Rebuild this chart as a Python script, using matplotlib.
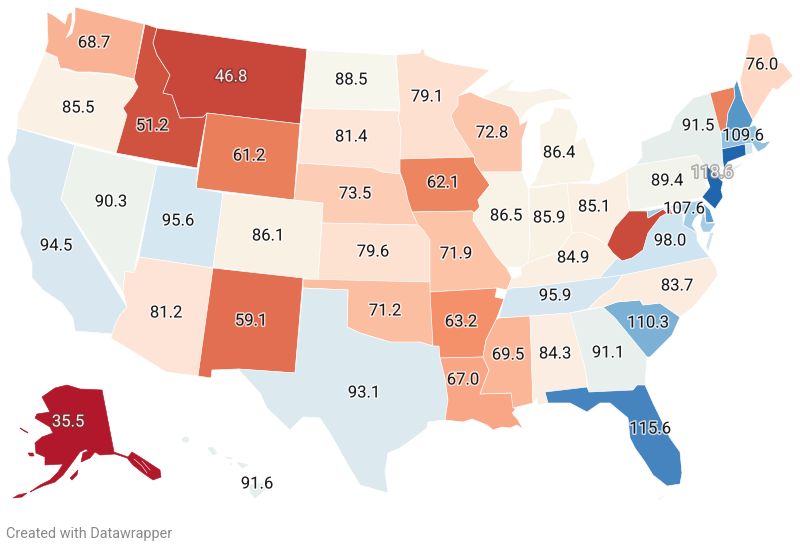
import matplotlib
matplotlib.use("Agg")
import matplotlib.pyplot as plt
import matplotlib.patheffects as pe
from matplotlib.colors import LinearSegmentedColormap, Normalize
from matplotlib.patches import Polygon

plt.rcParams['font.family'] = ['Roboto', 'DejaVu Sans']

# Index values per state (hidden-label states estimated from their colour)
states = ["WA","OR","CA","NV","ID","MT","WY","UT","AZ","CO","NM","ND","SD","NE","KS","OK","TX",
          "MN","IA","MO","AR","LA","WI","IL","IN","MI","OH","KY","TN","MS","AL","GA","FL","SC","NC",
          "VA","WV","PA","NY","VT","NH","ME","MA","RI","CT","NJ","DE","MD","DC","AK","HI"]
values = [68.7,85.5,94.5,90.3,51.2,46.8,61.2,95.6,81.2,86.1,59.1,88.5,81.4,73.5,79.6,71.2,93.1,
          79.1,62.1,71.9,63.2,67.0,72.8,86.5,85.9,86.4,85.1,84.9,95.9,69.5,84.3,91.1,115.6,110.3,83.7,
          98.0,48.0,89.4,91.5,61.5,113.0,76.0,109.6,97.0,118.6,118.6,112.5,107.6,55.0,35.5,91.6]
hidden_labels = ["VT","NH","RI","CT","DE","DC","WV"]
no_border = ["AK","HI"]

# Colour scale
scale_stops = [35.5,46.8,51.2,59.1,61.2,63.2,67.0,68.7,71.2,72.8,76.0,79.1,81.4,85.0,86.5,88.5,
               90.3,91.5,93.1,95.6,98.0,107.6,109.6,110.3,113.0,115.6,118.6]
scale_colors = ["#b2182b","#c8473a","#d05340","#e37052","#e97f5b","#f4906a","#f8a585","#f9b293",
                "#fcbfa1","#fcc7ae","#fed9c5","#fde0d0","#fde5d8","#fbefe3","#f9f2e6","#f7f6ec",
                "#eef2ec","#e6eeec","#dce9ef","#d6e7f1","#cfe4f1","#a6cde4","#9bc5e0","#7cb3d6",
                "#5598c8","#4685bf","#2166ac"]

# State outlines, traced by hand in picture pixels (no geodata is available offline)
outlines = {
"WA":[[(75,7),(144,24),(134,79),(113,74),(90,72),(77,72),(68,69),(60,68),(57,57),(45,52),(48,42),(47,12),(53,15),(60,20),(65,24),(68,14),(72,12),(72,22),(70,30),(66,38),(72,33),(75,20)]],
"OR":[[(45,53),(57,58),(60,69),(77,73),(90,73),(113,75),(134,80),(138,87),(132,97),(123,108),(127,115),(116,153),(17,128),(18,112),(21,108),(32,83)]],
"CA":[[(17,128),(75,145),(61,199),(127,307),(120,315),(115,325),(113,334),(75,331),(73,318),(62,303),(43,290),(32,278),(32,263),(20,233),(22,223),(20,210),(10,190),(10,173),(7,158),(15,143)]],
"NV":[[(75,145),(157,165),(137,257),(134,273),(125,271),(123,292),(61,199)]],
"ID":[[(145,24),(157,28),(153,43),(157,55),(170,75),(163,93),(172,95),(180,118),(203,117),(207,113),(197,168),(116,153),(127,115),(123,108),(132,97),(138,87),(134,79)]],
"MT":[[(157,28),(307,49),(300,124),(207,113),(203,117),(180,118),(172,95),(163,93),(170,75),(157,55),(153,43)]],
"WY":[[(207,113),(300,124),(294,200),(196,188)]],
"UT":[[(157,165),(198,169),(196,188),(223,193),(213,268),(139,257)]],
"AZ":[[(139,257),(213,268),(198,376),(166,372),(111,338),(115,325),(120,315),(127,307),(123,292),(125,271),(134,273)]],
"CO":[[(223,193),(323,203),(318,280),(213,267)]],
"NM":[[(213,268),(303,278),(295,373),(238,369),(212,370),(211,378),(198,376)]],
"ND":[[(307,50),(395,55),(400,110),(303,108)]],
"SD":[[(303,108),(400,111),(398,117),(401,130),(400,174),(382,172),(373,168),(298,163)]],
"NE":[[(298,163),(373,168),(382,172),(400,174),(405,186),(408,200),(412,212),(418,225),(322,223),(323,203),(294,200)]],
"KS":[[(322,223),(418,225),(423,230),(430,240),(430,282),(318,280)]],
"OK":[[(303,279),(430,282),(433,346),(420,342),(400,343),(390,342),(360,333),(347,327),(348,290),(303,288)]],
"TX":[[(303,288),(348,290),(347,327),(360,333),(390,342),(420,342),(433,346),(439,346),(440,358),(445,378),(448,400),(445,420),(428,422),(427,428),(418,435),(400,448),(388,453),(385,472),(388,493),(360,485),(348,465),(333,438),(320,418),(303,417),(290,430),(267,408),(260,393),(238,369),(295,373)]],
"MN":[[(396,55),(420,53),(423,47),(425,55),(443,62),(460,65),(490,70),(460,95),(458,105),(451,115),(455,127),(474,157),(400,159),(401,130),(398,117),(400,110)]],
"IA":[[(400,159),(474,157),(475,163),(481,172),(490,185),(478,200),(480,207),(474,213),(472,211),(412,212),(408,200),(405,186),(400,172)]],
"MO":[[(412,212),(472,211),(474,213),(473,220),(497,257),(506,267),(512,278),(507,290),(497,288),(430,292),(430,240),(423,230),(418,225)]],
"AR":[[(430,292),(497,288),(495,297),(504,299),(496,320),(486,340),(483,357),(440,358),(439,346),(433,346)]],
"LA":[[(440,358),(483,357),(489,370),(480,394),(511,393),(515,410),(512,413),(518,420),(523,429),(517,425),(510,428),(502,427),(493,430),(487,425),(482,423),(472,419),(463,422),(445,420),(448,400),(445,378)]],
"WI":[[(458,96),(470,92),(483,98),(512,107),(519,117),(520,125),(528,120),(522,140),(522,172),(481,172),(475,163),(474,157),(455,127),(451,115),(458,105)]],
"IL":[[(474,213),(480,207),(478,200),(490,185),(481,172),(522,172),(528,188),(530,240),(528,263),(521,267),(506,267),(497,257),(473,220)]],
"IN":[[(529,188),(543,187),(567,183),(572,233),(557,253),(540,258),(528,263),(530,240)]],
"MI":[[(529,187),(567,183),(590,181),(595,165),(585,137),(575,143),(578,125),(570,110),(555,107),(550,120),(540,125),(540,150),(543,160),(535,180)],
      [(483,97),(507,83),(515,78),(507,90),(530,92),(550,88),(565,93),(573,99),(557,100),(540,103),(528,110),(520,120),(519,117),(512,107)]],
"OH":[[(567,183),(597,184),(608,180),(627,170),(628,197),(630,210),(615,227),(607,245),(597,238),(582,232),(572,233)]],
"KY":[[(507,290),(512,278),(515,278),(521,275),(521,267),(528,263),(540,258),(557,253),(572,233),(582,232),(597,238),(607,245),(617,258),(602,275),(600,278),(530,287),(512,288)]],
"TN":[[(499,318),(504,299),(507,290),(512,288),(530,287),(600,278),(623,275),(613,288),(600,297),(588,309),(570,313),(530,316)]],
"MS":[[(499,318),(530,316),(533,403),(513,408),(511,393),(480,394),(489,370),(483,357),(486,340),(496,320)]],
"AL":[[(530,316),(570,313),(585,368),(588,392),(545,392),(548,403),(538,405),(537,398),(533,403)]],
"GA":[[(570,313),(603,307),(615,318),(647,357),(645,385),(637,385),(633,390),(589,392),(585,368)]],
"FL":[[(545,392),(587,387),(589,392),(633,390),(637,385),(645,385),(653,403),(670,438),(680,452),(682,473),(680,484),(667,486),(653,475),(645,462),(635,448),(630,438),(628,418),(610,403),(600,403),(587,412),(570,403),(548,403)],
      [(657,500),(665,495),(660,499)]],
"SC":[[(603,307),(617,302),(640,300),(643,305),(660,303),(680,317),(672,335),(650,357),(647,357),(615,318)]],
"NC":[[(623,275),(710,257),(716,268),(718,275),(705,293),(692,308),(680,317),(660,303),(643,305),(640,300),(617,302),(603,307),(588,309),(600,297),(613,288)]],
"VA":[[(600,278),(602,275),(617,258),(622,261),(632,258),(643,250),(648,233),(660,217),(667,213),(683,213),(683,225),(697,233),(697,240),(702,248),(708,255),(710,257),(623,275)],
      [(710,233),(714,232),(708,252),(706,246)]],
"WV":[[(627,195),(630,211),(647,211),(648,218),(663,209),(667,213),(660,217),(648,233),(643,250),(632,258),(622,261),(613,253),(607,245),(615,227),(630,210)]],
"PA":[[(626,170),(635,165),(697,155),(706,168),(706,185),(710,190),(700,198),(630,211),(628,197)]],
"NY":[[(635,165),(642,157),(641,142),(670,130),(675,117),(693,98),(710,93),(720,130),(722,147),(723,163),(725,167),(712,165),(706,168),(697,155)],
      [(726,170),(745,162),(730,174)]],
"VT":[[(710,93),(734,87),(735,97),(728,113),(726,131),(720,131)]],
"NH":[[(734,87),(737,80),(743,100),(753,120),(750,127),(726,131),(728,113),(735,97)]],
"ME":[[(740,80),(747,50),(750,35),(763,33),(770,37),(777,63),(783,63),(793,76),(777,90),(773,88),(763,103),(753,120),(743,100)]],
"MA":[[(721,132),(750,127),(755,125),(760,133),(756,138),(762,143),(771,141),(765,148),(758,152),(752,143),(745,144),(722,149)]],
"RI":[[(745,144),(752,143),(753,153),(746,155)]],
"CT":[[(722,149),(745,144),(746,155),(728,162),(724,168),(723,163)]],
"NJ":[[(707,166),(723,182),(721,190),(723,197),(715,209),(702,197),(710,187),(705,173)]],
"DE":[[(703,203),(710,210),(714,222),(706,223),(705,210)]],
"MD":[[(647,211),(702,200),(703,205),(700,213),(695,218),(692,225),(697,233),(683,225),(686,213),(677,209),(667,207),(663,209),(648,218)],
      [(703,206),(706,223),(716,223),(710,232),(703,232),(700,225),(702,217)]],
"DC":[[(666,207),(670,208),(673,215),(669,214)]],
"AK":[[(42,397),(55,388),(67,385),(80,389),(102,390),(114,452),(128,457),(132,452),(140,457),(160,470),(161,477),(153,480),(143,473),(133,465),(127,458),(115,454),(100,455),(95,452),(90,458),(81,462),(83,453),(88,451),(86,449),(80,452),(72,463),(63,475),(55,482),(43,486),(32,491),(30,492),(40,485),(50,480),(58,472),(63,464),(45,465),(45,457),(36,453),(35,443),(42,437),(53,433),(50,427),(35,418),(37,414),(50,412)],
      [(70,478),(78,470),(77,475),(72,480)],[(28,453),(33,453),(34,456),(30,456)],[(20,428),(27,432),(28,433),(24,431)],[(13,498),(18,495),(27,493),(22,497)]],
"HI":[[(182,439),(185,437),(189,438),(188,442),(183,442)],[(208,448),(212,447),(217,453),(213,455)],[(225,457),(232,458),(231,459)],[(237,462),(248,465),(242,468)],[(230,463),(232,464),(231,465)],[(250,485),(263,483),(267,488),(255,498),(250,492)]],
}

# White channels between the south-east Alaska islands
ak_channels = [[(134,459),(142,466),(147,473)],[(142,461),(150,470)]]

# Label anchors, picture pixels
label_xy = {"WA":(94,43),"MT":(231,77),"ID":(152,126),"OR":(78,108),"ND":(351,80),"SD":(351,137),"WY":(249,156),
 "NE":(355,194),"CO":(268,236),"UT":(178,221),"NV":(111,202),"CA":(56,246),"AZ":(166,313),"NM":(251,321),"KS":(373,252),
 "OK":(385,311),"TX":(364,393),"MN":(427,97),"IA":(443,183),"MO":(456,254),"AR":(461,322),"LA":(463,380),"WI":(492,133),
 "IL":(506,216),"IN":(549,218),"OH":(594,207),"MI":(559,153),"KY":(573,258),"TN":(555,296),"MS":(508,355),"AL":(555,354),
 "GA":(608,353),"FL":(650,429),"SC":(648,323),"NC":(677,286),"VA":(670,241),"PA":(667,181),"NY":(698,126),"ME":(762,65),
 "MA":(743,136),"NJ":(712,173),"MD":(684,209),"AK":(68,422),"HI":(257,484)}
light_text = ["MT","AK","NJ"]

fig = plt.figure(figsize=(8,5.5), dpi=100, facecolor="white")
ax = fig.add_axes([0,0,1,1])
ax.set_xlim(0,800); ax.set_ylim(550,0); ax.axis("off")

cmap = LinearSegmentedColormap.from_list(
    "map", [((v-scale_stops[0])/(scale_stops[-1]-scale_stops[0]), c) for v,c in zip(scale_stops, scale_colors)])
norm = Normalize(scale_stops[0], scale_stops[-1])

for st, val in zip(states, values):
    fill = cmap(norm(val))
    edge = fill if st in no_border else "white"
    for ring in outlines[st]:
        ax.add_patch(Polygon(ring, closed=True, facecolor=fill, edgecolor=edge, linewidth=0.45, zorder=2))

for seg in ak_channels:
    ax.plot([p[0] for p in seg], [p[1] for p in seg], color="white", lw=0.4, zorder=3)

for st, val in zip(states, values):
    if st in hidden_labels:
        continue
    x, y = label_xy[st]
    if st in light_text:
        txt = "#f4f0ee"; hl = "#7a3030" if st != "NJ" else "#8a8a8a"
    else:
        txt = "#1a1a1a"; hl = "#ffffff"
    t = ax.text(x, y, f"{val:.1f}", ha="center", va="center", fontsize=12, color=txt, zorder=5)
    t.set_path_effects([pe.withStroke(linewidth=2.2, foreground=hl, alpha=0.7)])

ax.text(6, 534, "Created with Datawrapper", ha="left", va="center", fontsize=10.4, color="#888888", zorder=5)
fig.savefig("out.png", dpi=100)
